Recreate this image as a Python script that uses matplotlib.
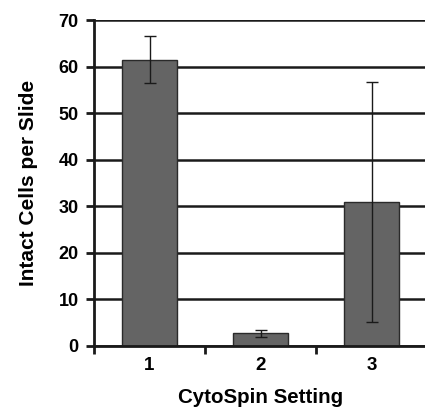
import matplotlib
matplotlib.use("Agg")
import matplotlib.pyplot as plt

settings = ["1", "2", "3"]
cells = [61.5, 2.7, 30.9]
errors = [5.0, 0.7, 25.7]

plt.rcParams["font.family"] = ["Liberation Sans", "DejaVu Sans"]
plt.rcParams["font.weight"] = "bold"

fig = plt.figure(figsize=(4.25, 4.08), dpi=100)
ax = fig.add_axes([94 / 425, 62 / 408, 333 / 425, 326 / 408])

x = [1, 2, 3]
ax.set_axisbelow(True)
ax.yaxis.grid(True, color="#1a1a1a", linewidth=1.8)
ax.bar(x, cells, width=0.5, color="#646464", edgecolor="#2a2a2a", linewidth=1.0, zorder=2)
ax.errorbar(x, cells, yerr=errors, fmt="none", ecolor="#1a1a1a", elinewidth=1.0,
            capsize=4, capthick=1.0, zorder=3)

ax.set_xlim(0.5, 3.5)
ax.set_ylim(0, 70)
ax.set_yticks(range(0, 71, 10))
ax.set_xticks([0.5, 1.5, 2.5, 3.5])
ax.set_xticklabels([])
ax.set_xticks(x, minor=True)
ax.set_xticklabels(settings, minor=True, fontsize=13.5, fontweight="bold")
ax.tick_params(axis="x", which="minor", length=0, pad=8)
ax.tick_params(axis="x", which="major", direction="out", length=6, width=2, color="#1a1a1a")
ax.tick_params(axis="y", direction="out", length=6, width=2, color="#1a1a1a",
               labelsize=13, pad=5)
for lbl in ax.get_yticklabels():
    lbl.set_fontweight("bold")

for side in ["top", "right"]:
    ax.spines[side].set_visible(False)
for side in ["left", "bottom"]:
    ax.spines[side].set_linewidth(2)
    ax.spines[side].set_color("#1a1a1a")

ax.set_xlabel("CytoSpin Setting", fontsize=14.8, fontweight="bold", labelpad=10)
ax.set_ylabel("Intact Cells per Slide", fontsize=15, fontweight="bold", labelpad=15)

fig.savefig("out.png", dpi=100)
